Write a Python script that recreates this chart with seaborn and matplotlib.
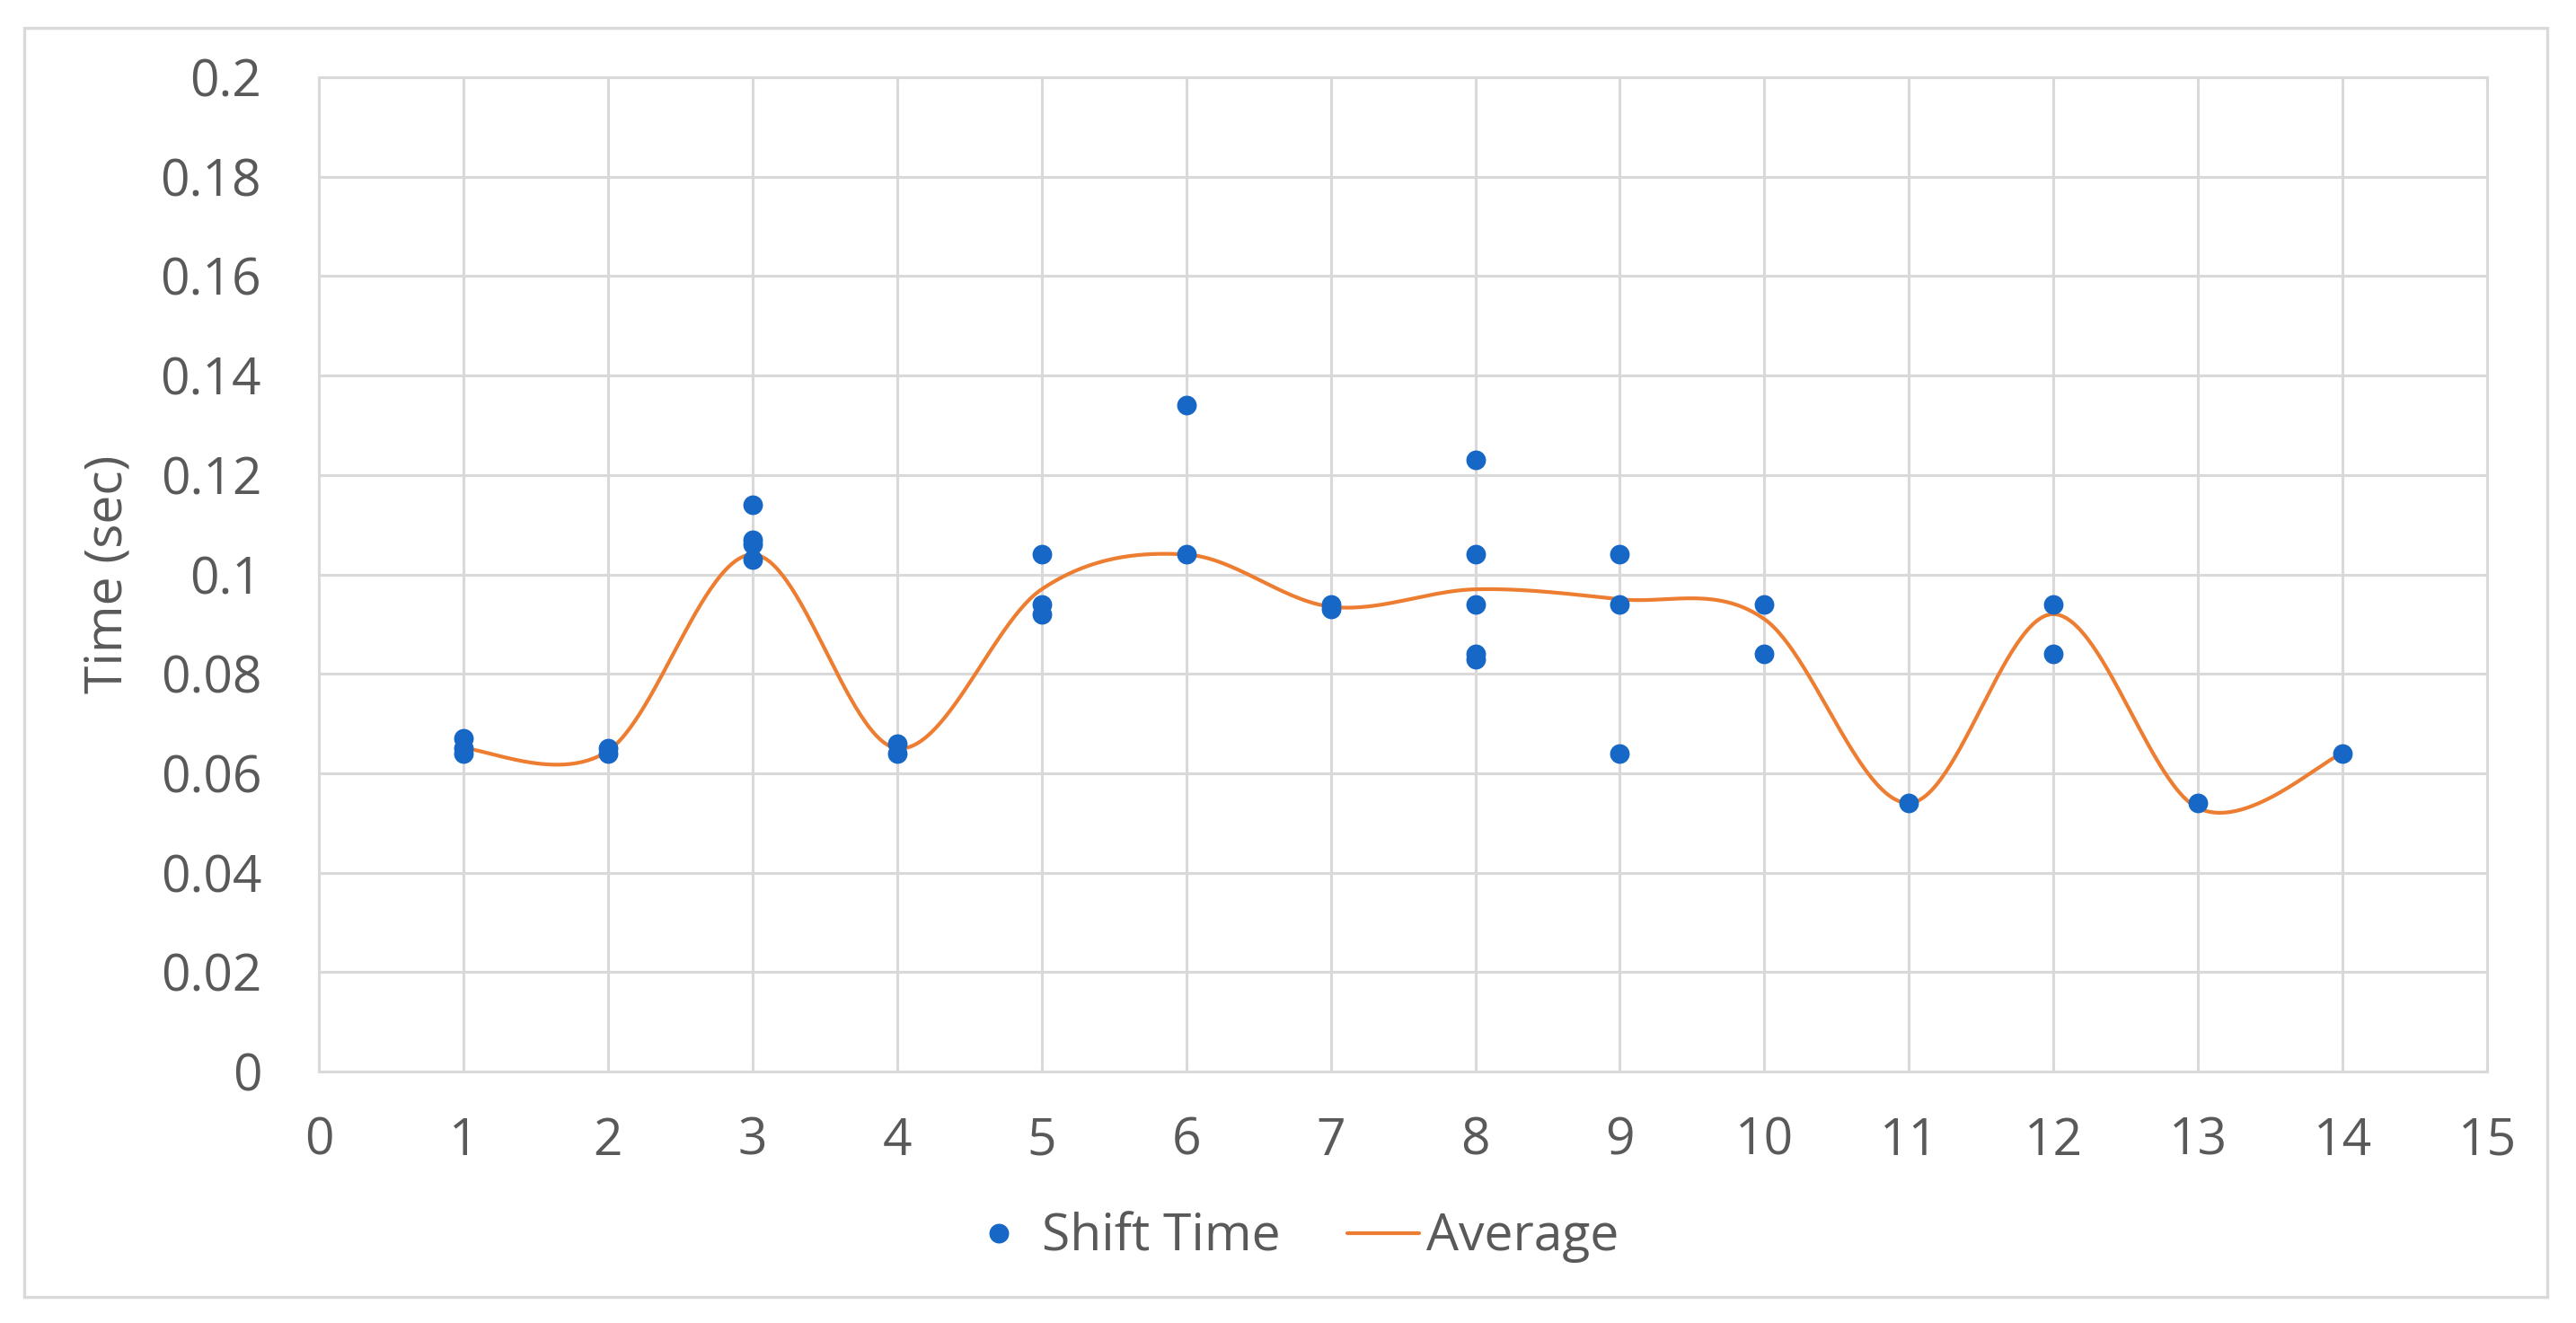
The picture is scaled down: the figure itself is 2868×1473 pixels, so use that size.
import numpy as np
import pandas as pd
import matplotlib
matplotlib.use("Agg")
import matplotlib.pyplot as plt
import seaborn as sns
from matplotlib.lines import Line2D
from matplotlib.patches import Rectangle

# ---- data ----
shift_x = [1, 1, 1, 2, 2, 3, 3, 3, 3, 4, 4, 5, 5, 5, 6, 6, 7, 7,
           8, 8, 8, 8, 8, 9, 9, 9, 10, 10, 11, 12, 12, 13, 14]
shift_y = [0.067, 0.065, 0.064, 0.065, 0.064, 0.114, 0.107, 0.106, 0.103,
           0.066, 0.064, 0.104, 0.094, 0.092, 0.134, 0.104, 0.094, 0.093,
           0.123, 0.104, 0.094, 0.084, 0.083, 0.104, 0.094, 0.064,
           0.094, 0.084, 0.054, 0.094, 0.084, 0.054, 0.064]
avg_x = [1, 2, 3, 4, 5, 6, 7, 8, 9, 10, 11, 12, 13, 14]
avg_y = [0.065, 0.0645, 0.104, 0.065, 0.097, 0.104, 0.0935, 0.097, 0.095,
         0.091, 0.054, 0.092, 0.053, 0.064]
x_ticks = list(range(0, 16))
y_ticks = [0, 0.02, 0.04, 0.06, 0.08, 0.1, 0.12, 0.14, 0.16, 0.18, 0.2]
y_tick_labels = ["0", "0.02", "0.04", "0.06", "0.08", "0.1", "0.12", "0.14",
                 "0.16", "0.18", "0.2"]

# Excel-style smoothed line (Bezier through the averages)
def smooth(xs, ys, n=60):
    P = np.column_stack([xs, ys]).astype(float)
    P = np.vstack([P[0], P, P[-1]])
    out = []
    for i in range(1, len(P) - 2):
        p0, p1, p2, p3 = P[i - 1], P[i], P[i + 1], P[i + 2]
        c1 = p1 + (p2 - p0) / 6.0
        c2 = p2 - (p3 - p1) / 6.0
        t = np.linspace(0, 1, n)[:, None]
        seg = ((1 - t) ** 3) * p1 + 3 * ((1 - t) ** 2) * t * c1 + 3 * (1 - t) * t ** 2 * c2 + t ** 3 * p2
        out.append(seg if i == len(P) - 3 else seg[:-1])
    return np.vstack(out)

curve = smooth(avg_x, avg_y)
curve_df = pd.DataFrame({"x": curve[:, 0], "y": curve[:, 1]})
pts_df = pd.DataFrame({"x": shift_x, "y": shift_y})

sns.set_theme(style="white")
plt.rcParams['font.family'] = ['Open Sans', 'DejaVu Sans']
TXT = "#595959"
GRID = "#d9d9d9"
BLUE = "#1767c6"
ORANGE = "#ed7d31"
FS = 20.5

fig = plt.figure(figsize=(14.34, 7.365), dpi=200)
ax = fig.add_axes([0.1238, 0.1901, 0.9655 - 0.1238, 0.9416 - 0.1901])

sns.lineplot(data=curve_df, x="x", y="y", sort=False, estimator=None,
             color=ORANGE, lw=1.5, ax=ax, zorder=3)
sns.scatterplot(data=pts_df, x="x", y="y", color=BLUE, s=62, linewidth=0,
                ax=ax, zorder=4)

ax.set_xlim(0, 15)
ax.set_ylim(0, 0.2)
ax.set_xticks(x_ticks)
ax.set_xticklabels([str(v) for v in x_ticks])
ax.set_yticks(y_ticks)
ax.set_yticklabels(y_tick_labels)
ax.grid(True, color=GRID, lw=1.1)
ax.set_axisbelow(True)
for s in ax.spines.values():
    s.set_color(GRID)
    s.set_linewidth(1.1)
ax.tick_params(axis="both", length=0, labelsize=FS, labelcolor=TXT)
ax.tick_params(axis="y", pad=23)
ax.tick_params(axis="x", pad=18)
ax.set_xlabel("")
ax.set_ylabel("Time (sec)", fontsize=FS, color=TXT)
ax.yaxis.set_label_coords(-0.085, 0.5)

handles = [Line2D([0], [0], marker="o", color="none", markerfacecolor=BLUE,
                  markeredgewidth=0, markersize=7.9),
           Line2D([0], [0], color=ORANGE, lw=1.5)]
leg = fig.legend(handles, ["Shift Time", "Average"], loc="center left",
                 bbox_to_anchor=(1072 / 2868, 1 - 1378 / 1473), ncol=2,
                 frameon=False, borderpad=0, borderaxespad=0,
                 fontsize=FS, handlelength=1.41, handletextpad=0.14,
                 columnspacing=1.3)
for t in leg.get_texts():
    t.set_color(TXT)

fig.patches.append(Rectangle((0.0094, 0.0197), 0.989 - 0.0094, 0.979 - 0.0197,
                             transform=fig.transFigure, fill=False,
                             edgecolor=GRID, lw=1.2))

fig.savefig("out.png", dpi=200, facecolor="white")
